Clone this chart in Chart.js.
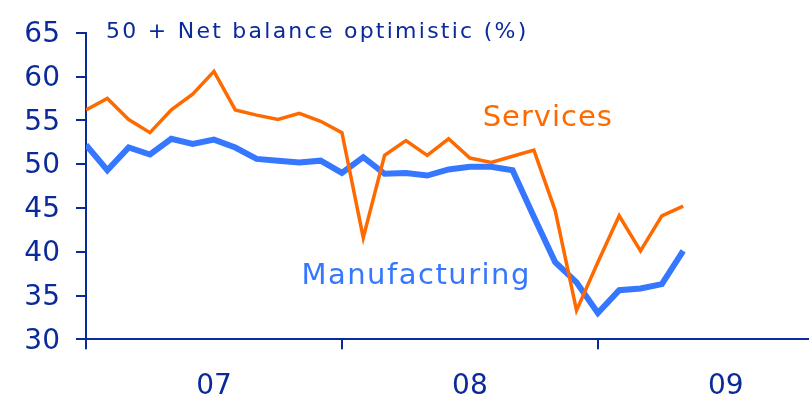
<!DOCTYPE html>
<html>
<head>
<meta charset="utf-8">
<script src="https://cdn.jsdelivr.net/npm/chart.js@4"></script>
<style>
  html, body { margin: 0; padding: 0; background: #fff; }
  #wrap { width: 809px; height: 401px; position: relative; }
</style>
</head>
<body>
<div id="wrap"><canvas id="chart"></canvas></div>
<script>
// monthly survey, Jan 07 .. May 09
const months = ['Jan 07','Feb 07','Mar 07','Apr 07','May 07','Jun 07','Jul 07','Aug 07','Sep 07','Oct 07','Nov 07','Dec 07',
  'Jan 08','Feb 08','Mar 08','Apr 08','May 08','Jun 08','Jul 08','Aug 08','Sep 08','Oct 08','Nov 08','Dec 08',
  'Jan 09','Feb 09','Mar 09','Apr 09','May 09'];
const services = [56.2, 57.5, 55.1, 53.6, 56.2, 58.0, 60.6, 56.2, 55.6, 55.1, 55.8, 54.9,
  53.6, 41.6, 51.0, 52.7, 51.0, 52.9, 50.7, 50.2, 50.9, 51.6, 44.7, 33.3,
  38.8, 44.1, 40.1, 44.1, 45.2];
const manufacturing = [52.2, 49.3, 51.9, 51.1, 52.9, 52.3, 52.8, 51.9, 50.6, 50.4, 50.2, 50.4,
  49.0, 50.8, 48.9, 49.0, 48.7, 49.4, 49.7, 49.7, 49.3, 44.0, 38.8, 36.5,
  33.0, 35.6, 35.8, 36.3, 40.1];
const yearLabels = ['07', '08', '09'];
const yTicks = [30, 35, 40, 45, 50, 55, 60, 65];

const NAVY = '#0a2a9a';
const ORANGE = '#ff6a00';
const BLUE = '#3577ff';
const FONT = "'DejaVu Sans', Verdana, sans-serif";

const toPoints = arr => arr.map((v, i) => ({ x: i, y: v }));

// free text: chart title and series names
const textPlugin = {
  id: 'texts',
  afterDatasetsDraw(chart, args, opts) {
    const ctx = chart.ctx;
    const xs = chart.scales.x, ys = chart.scales.y;
    ctx.save();
    ctx.textBaseline = 'alphabetic';
    ctx.textAlign = 'left';
    opts.items.forEach(t => {
      ctx.font = t.font;
      ctx.fillStyle = t.color;
      ctx.letterSpacing = t.spacing || '0px';
      ctx.fillText(t.text, xs.getPixelForValue(t.x), ys.getPixelForValue(t.y));
    });
    ctx.restore();
  }
};

new Chart(document.getElementById('chart').getContext('2d'), {
  type: 'line',
  data: {
    labels: months,
    datasets: [{
      label: 'Services',
      data: toPoints(services),
      borderColor: ORANGE,
      borderWidth: 3.5,
      pointRadius: 0,
      tension: 0,
      fill: false
    }, {
      label: 'Manufacturing',
      data: toPoints(manufacturing),
      borderColor: BLUE,
      borderWidth: 6,
      pointRadius: 0,
      tension: 0,
      fill: false
    }]
  },
  plugins: [textPlugin],
  options: {
    responsive: true,
    maintainAspectRatio: false,
    animation: false,
    layout: { padding: { top: 27, right: 0, left: 0, bottom: 0 } },
    scales: {
      x: {
        type: 'linear',
        min: 0,
        max: 33.9,
        afterBuildTicks: scale => {
          scale.ticks = [0, 6, 12, 18, 24, 30].map(v => ({ value: v }));
        },
        afterFit: scale => { scale.height = 61.7; },
        border: { display: true, color: NAVY, width: 2 },
        grid: {
          drawOnChartArea: false,
          drawTicks: true,
          tickLength: 10,
          lineWidth: 2,
          color: c => (c.tick && c.tick.value % 12 === 0) ? NAVY : 'rgba(0,0,0,0)'
        },
        ticks: {
          autoSkip: false,
          maxRotation: 0,
          padding: 21,
          color: NAVY,
          font: { family: FONT, size: 28 },
          callback: v => (v % 12 === 6) ? yearLabels[(v - 6) / 12] : ''
        }
      },
      y: {
        min: 30,
        max: 65,
        afterBuildTicks: scale => {
          scale.ticks = yTicks.map(v => ({ value: v }));
        },
        afterFit: scale => { scale.width = 86; },
        border: { display: true, color: NAVY, width: 2 },
        grid: {
          drawOnChartArea: false,
          drawTicks: true,
          tickLength: 10,
          lineWidth: 2,
          color: NAVY
        },
        ticks: {
          padding: 16,
          labelOffset: 2,
          color: NAVY,
          font: { family: FONT, size: 28 }
        }
      }
    },
    plugins: {
      legend: { display: false },
      tooltip: { enabled: false },
      texts: {
        items: [
          { text: '50 + Net balance optimistic (%)', x: 0.94, y: 64.45, font: '22px ' + FONT, color: NAVY, spacing: '2.25px' },
          { text: 'Services', x: 18.6, y: 54.4, font: '29px ' + FONT, color: ORANGE, spacing: '1px' },
          { text: 'Manufacturing', x: 10.1, y: 36.3, font: '29px ' + FONT, color: BLUE, spacing: '1.5px' }
        ]
      }
    }
  }
});
</script>
</body>
</html>
